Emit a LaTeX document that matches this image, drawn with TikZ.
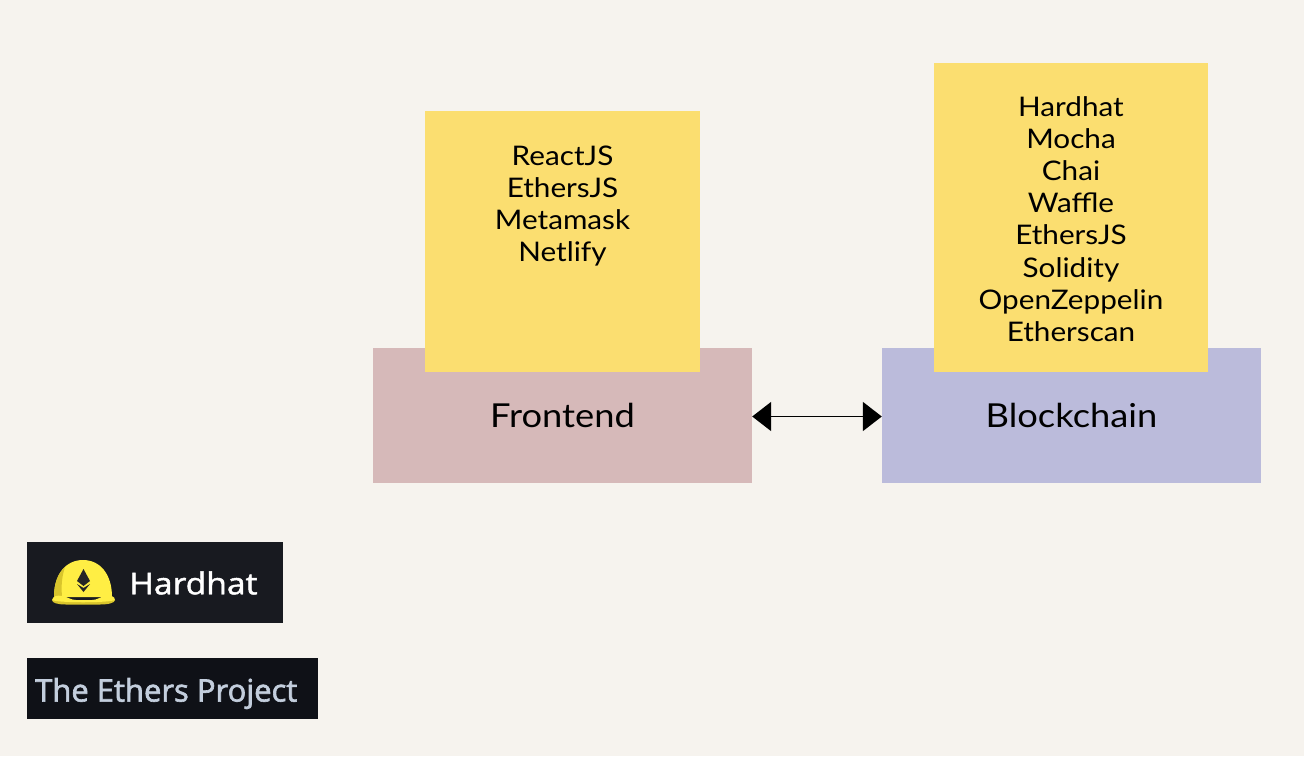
\documentclass[tikz,border=0pt]{standalone}
\usepackage{fontspec}
\setmainfont[FakeStretch=1.1]{Lato}
\newfontfamily\hardhatfont[FakeStretch=1.12,FakeBold=1.5]{Open Sans}
\newfontfamily\ethersfont[FakeBold=2]{Open Sans}
\usetikzlibrary{arrows.meta}
\definecolor{paper}{HTML}{F6F3EE}
\definecolor{rosebox}{HTML}{D6B9B9}
\definecolor{bluebox}{HTML}{BBBBDB}
\definecolor{stickynote}{HTML}{FBDE70}
\definecolor{hardhatbg}{HTML}{181A20}
\definecolor{ethersbg}{HTML}{0F1117}
\definecolor{helmet}{HTML}{FFEE44}
\definecolor{helmetbrim}{HTML}{D9C52C}
\definecolor{ethersink}{HTML}{C3CEDD}

\begin{document}
\begin{tikzpicture}[
    x=1pt,
    y=-1pt,
    layerbox/.style={minimum width=379pt, minimum height=135pt, inner sep=0pt, font=\fontsize{33}{38}\selectfont, text=black},
    sticky/.style={fill=stickynote, anchor=north west, inner sep=0pt},
    stacklist/.style={anchor=north, align=center, inner sep=0pt, font=\fontsize{27}{32.2}\selectfont, text=black},
    badge/.style={anchor=north west, inner sep=0pt}
]
    \useasboundingbox[fill=paper] (0,0) rectangle (1304,756);

    % Two layers, the notes sit on top of them
    \node[layerbox, fill=rosebox] (frontend) at (562.5,415.5) {};
    \node[layerbox, fill=bluebox] (blockchain) at (1071.5,415.5) {};
    \node[sticky, minimum width=275pt, minimum height=261pt] (frontendnote) at (425,111) {};
    \node[sticky, minimum width=274pt, minimum height=309pt] (blockchainnote) at (934,63) {};
    \node[layerbox] (frontendlabel) at (562.5,415.5) {Frontend};
    \node[layerbox] (blockchainlabel) at (1071.5,415.5) {Blockchain};

    \node[stacklist] (frontendstack) at (562.5,145.5) {ReactJS\\EthersJS\\Metamask\\Netlify};
    \node[stacklist] (blockchainstack) at (1071,96) {Hardhat\\Mocha\\Chai\\Waffle\\EthersJS\\Solidity\\OpenZeppelin\\Etherscan};

    \draw[line width=1.8pt, {Triangle[length=19pt,width=29pt]}-{Triangle[length=19pt,width=29pt]}] ([yshift=-1pt]frontend.east) -- ([yshift=-1pt]blockchain.west);

    % Hardhat badge with its helmet
    \node[badge, fill=hardhatbg, minimum width=256pt, minimum height=81pt] (hardhatbadge) at (27,542) {};
    \node[badge, anchor=west, text=white, font=\hardhatfont\fontsize{30}{30}\selectfont] (hardhatlabel) at (129,583) {Hardhat};
    \fill[helmet] (54,597) .. controls (54,574) and (66,560) .. (83,560) .. controls (100,560) and (112,574) .. (112,597) -- cycle;
    \fill[helmetbrim] (54,597) .. controls (54,583) and (58,573) .. (65,567) .. controls (62,576) and (61,586) .. (62,596) -- cycle;
    \fill[helmetbrim] (52,600) -- (115,600) .. controls (115,603) and (108,604.5) .. (100,604.5) -- (66,604.5) .. controls (58,604.5) and (52,603) .. (52,600) -- cycle;
    \fill[helmet] (52,600) .. controls (53,596) and (57,595) .. (62,596) .. controls (68,597) and (71,600) .. (76,600) -- (92,600) .. controls (97,600) and (100,597) .. (105,596) .. controls (110,595) and (115,596) .. (115,600) .. controls (108,603) and (58,603) .. (52,600) -- cycle;
    \fill[black!85] (83.5,569) -- (90,581) -- (83.5,586) -- (77,581) -- cycle;
    \fill[black!85] (77,584) -- (83.5,588) -- (90,584) -- (83.5,592) -- cycle;

    % Ethers badge
    \node[badge, fill=ethersbg, minimum width=291pt, minimum height=61pt] (ethersbadge) at (27,658) {};
    \node[badge, anchor=west, text=ethersink, font=\ethersfont\fontsize{31}{31}\selectfont] (etherslabel) at (35,693.5) {The Ethers Project};
\end{tikzpicture}
\end{document}
